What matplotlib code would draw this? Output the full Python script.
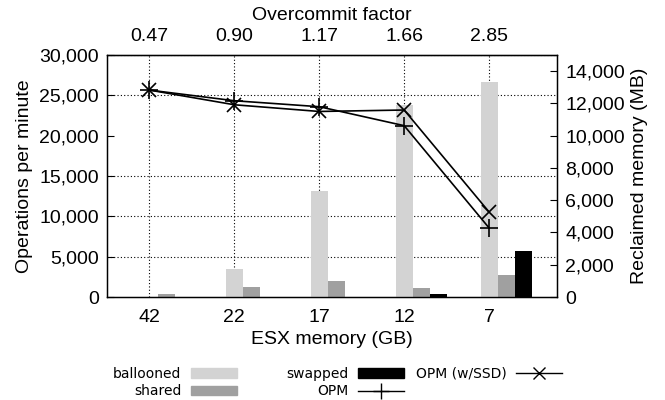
import matplotlib
matplotlib.use("Agg")
import matplotlib.pyplot as plt
from matplotlib.patches import Patch
from matplotlib.lines import Line2D
from matplotlib.ticker import MultipleLocator, FuncFormatter

# Data
esx_memory = ["42", "22", "17", "12", "7"]
overcommit = ["0.47", "0.90", "1.17", "1.66", "2.85"]

ballooned = [0, 1730, 6580, 11870, 13300]
shared = [200, 650, 1020, 530, 1380]
swapped = [0, 0, 0, 190, 2840]

opm = [25650, 24330, 23590, 21240, 8560]
opm_ssd = [25650, 23830, 23000, 23180, 10540]

tick_font = "Liberation Sans"
fs = 14

fig = plt.figure(figsize=(6.65, 4.0), dpi=100)
ax = fig.add_axes([107 / 665, 1 - 297 / 400, (557 - 107) / 665, (297 - 55) / 400])
ax2 = ax.twinx()

# ax (left axis, OPM lines) stays on top of the bars
ax.set_zorder(2)
ax2.set_zorder(1)
ax.patch.set_visible(False)

x = list(range(len(esx_memory)))
w = 0.2

ax2.bar(x, ballooned, w, color="#d3d3d3", zorder=3)
ax2.bar([i + w for i in x], shared, w, color="#a0a0a0", zorder=3)
ax2.bar([i + 2 * w for i in x], swapped, w, color="black", zorder=3)

ax.plot(x, opm, color="black", lw=1.2, marker="+", ms=13, mew=1.2)
ax.plot(x, opm_ssd, color="black", lw=1.2, marker="x", ms=10, mew=1.2)

ax.set_xlim(-0.5, 4.8)
ax.set_ylim(0, 30000)
ax2.set_ylim(0, 15000)

comma = FuncFormatter(lambda v, p: f"{int(v):,}")
ax.yaxis.set_major_locator(MultipleLocator(5000))
ax.yaxis.set_major_formatter(comma)
ax2.yaxis.set_major_locator(MultipleLocator(2000))
ax2.yaxis.set_major_formatter(comma)

ax.set_xticks(x)
ax.set_xticklabels(esx_memory)

# grid sits under the bars, so it is drawn on ax2 (5,000 OPM = 2,500 MB)
ax2.xaxis.set_visible(True)
ax2.set_xticks(x)
ax2.tick_params(axis="x", length=0, labelbottom=False)
ax2.yaxis.set_minor_locator(MultipleLocator(2500))
ax2.tick_params(axis="y", which="minor", length=0)
ax2.grid(True, which="minor", axis="y", color="black", ls=(0, (1, 2)), lw=0.8)
ax2.grid(True, which="major", axis="x", color="black", ls=(0, (1, 2)), lw=0.8)

top = ax.secondary_xaxis("top")
top.set_xticks(x)
top.set_xticklabels(overcommit)
top.set_xlabel("Overcommit factor", fontsize=fs, fontfamily=tick_font, labelpad=6)
top.tick_params(direction="in", length=0, pad=7)

ax.tick_params(axis="y", direction="in", length=5, width=0.8, pad=6)
ax.tick_params(axis="x", direction="in", length=0, pad=9)
ax2.tick_params(axis="y", which="major", direction="in", length=5, width=0.8, pad=6)

for a in (ax, ax2, top):
    for lab in a.get_xticklabels() + a.get_yticklabels():
        lab.set_fontfamily(tick_font)
        lab.set_fontsize(fs)

ax.set_xlabel("ESX memory (GB)", fontsize=fs, fontfamily=tick_font, labelpad=3)
ax.set_ylabel("Operations per minute", fontsize=fs, fontfamily=tick_font, labelpad=4)
ax2.set_ylabel("Reclaimed memory (MB)", fontsize=fs, fontfamily=tick_font, labelpad=4)

for s in ax.spines.values():
    s.set_linewidth(1.0)

# gnuplot-style key: text on the left, sample on the right, three blocks
h_ball = Patch(color="#d3d3d3")
h_shared = Patch(color="#a0a0a0")
h_swap = Patch(color="black")
h_opm = Line2D([], [], color="black", lw=1.0, marker="+", ms=11, mew=1.0)
h_ssd = Line2D([], [], color="black", lw=1.0, marker="x", ms=9, mew=1.0)

common = dict(frameon=False, markerfirst=False, fontsize=10, borderpad=0,
              handlelength=3.3, handletextpad=0.7, labelspacing=0.25,
              loc="upper right", bbox_transform=fig.transFigure)
leg1 = fig.legend([h_ball, h_shared], ["ballooned", "shared"],
                  bbox_to_anchor=(244 / 665, 1 - 360 / 400), **common)
leg2 = fig.legend([h_swap, h_opm], ["swapped", "OPM"],
                  bbox_to_anchor=(411 / 665, 1 - 360 / 400), **common)
leg3 = fig.legend([h_ssd], ["OPM (w/SSD)"],
                  bbox_to_anchor=(569 / 665, 1 - 360 / 400), **common)

fig.savefig("out.png", dpi=100)
